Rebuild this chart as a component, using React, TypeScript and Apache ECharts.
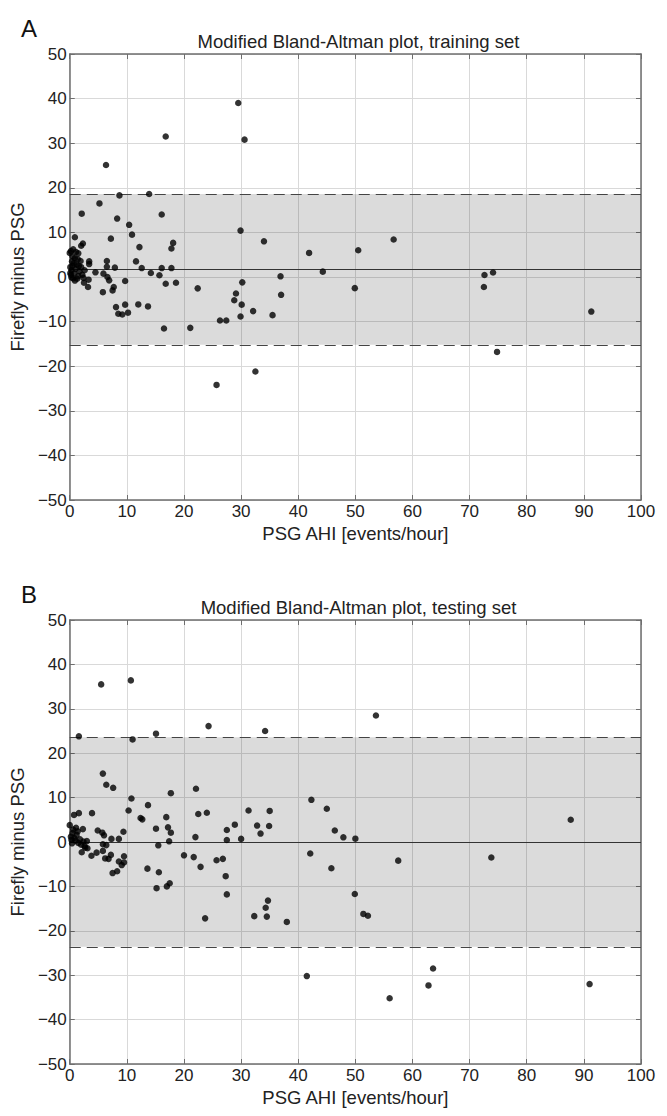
import React, { useEffect, useRef } from "react";
import * as echarts from "echarts";

const panelLetters = ["A", "B"];
const panelTitles = [
  "Modified Bland-Altman plot, training set",
  "Modified Bland-Altman plot, testing set",
];
const xAxisName = "PSG AHI [events/hour]";
const yAxisName = "Firefly minus PSG";
const xRange = [0, 100];
const yRange = [-50, 50];

// limits: [lower LoA, mean bias, upper LoA]
const trainingLimits = [-15.2, 1.65, 18.6];
const testingLimits = [-23.6, 0, 23.6];

const trainingPoints: [number, number][] = [
  [29.5, 39.0], [30.6, 30.8], [16.8, 31.5], [6.35, 25.1], [8.7, 18.3], [13.9, 18.6],
  [5.2, 16.5], [2.1, 14.2], [16.1, 14.0], [8.3, 13.1], [10.4, 11.7], [10.9, 9.5],
  [29.9, 10.4], [0.9, 8.9], [7.2, 8.6], [12.2, 6.7], [18.1, 7.65], [17.8, 6.4],
  [34.0, 8.0], [2.3, 7.5], [2.0, 7.0], [0.0, 5.4], [0.6, 6.2], [1.5, 5.3],
  [6.5, 3.6], [6.5, 2.3], [3.4, 3.5], [3.4, 2.9], [11.6, 3.5], [7.9, 2.1],
  [12.6, 2.0], [16.1, 2.0], [17.8, 2.0], [4.5, 1.05], [5.9, 0.75], [14.2, 0.9],
  [15.7, 0.4], [6.6, 0.0], [6.9, -0.75], [9.7, -0.9], [16.8, -1.5], [18.6, -1.3],
  [3.3, -0.6], [2.5, -1.3], [3.2, -2.25], [7.7, -2.25], [7.5, -3.0], [5.8, -3.4],
  [22.4, -2.55], [29.1, -3.7], [28.8, -5.2], [30.2, -1.2], [30.1, -6.2], [8.1, -6.75],
  [9.7, -6.2], [12.0, -6.15], [13.7, -6.6], [8.5, -8.25], [9.2, -8.4], [10.2, -8.0],
  [26.3, -9.75], [27.4, -9.75], [29.9, -8.85], [32.1, -7.65], [16.5, -11.55], [21.1, -11.4],
  [25.7, -24.2], [32.5, -21.2], [35.5, -8.55], [36.9, 0.15], [37.0, -4.0], [41.9, 5.4],
  [44.3, 1.2], [49.9, -2.5], [50.5, 6.0], [56.7, 8.4], [72.6, 0.45], [74.1, 1.0],
  [72.5, -2.25], [74.8, -16.8], [91.3, -7.75],
  [0.2, 0.5], [0.3, 1.5], [0.5, 2.5], [0.4, 3.5], [0.6, -0.3], [0.8, 0.8],
  [1.0, 1.8], [1.2, 2.8], [0.9, 4.2], [1.5, 0.2], [1.7, 1.3], [2.0, 2.2],
  [1.3, -0.4], [0.2, 5.8], [1.1, 5.6], [2.2, 0.5], [2.6, 1.5], [0.1, 2.2],
  [0.3, -0.1], [0.7, 3.1], [1.9, 3.6], [0.5, 4.6], [1.4, 4.0], [2.4, -0.2],
  [0.1, 0.9], [1.6, 2.5], [0.9, -0.8],
];

const testingPoints: [number, number][] = [
  [5.5, 35.5], [10.7, 36.4], [1.6, 23.8], [11.0, 23.1], [15.1, 24.4], [24.3, 26.1],
  [5.8, 15.4], [6.4, 12.9], [7.6, 12.2], [10.8, 9.8], [17.7, 11.0], [22.1, 12.0],
  [10.3, 7.1], [13.7, 8.3], [0.75, 6.1], [1.6, 6.5], [3.9, 6.5], [12.4, 5.4],
  [12.7, 5.1], [16.9, 5.6], [22.5, 6.3], [24.0, 6.6], [31.3, 7.1], [32.8, 3.7],
  [33.4, 1.9], [0.0, 3.8], [2.3, 2.9], [4.9, 2.6], [5.7, 2.1], [6.0, 1.5],
  [9.4, 2.3], [15.1, 3.0], [17.2, 3.3], [17.7, 2.1], [22.0, 1.1], [27.5, 2.7],
  [28.9, 3.9], [27.5, 0.45], [30.0, 0.7], [7.3, 0.7], [8.6, 0.7], [5.8, -0.5],
  [6.4, -0.7], [17.4, 0.15], [15.5, -0.75], [2.7, -1.3], [3.1, -1.4], [2.1, -2.3],
  [3.8, -3.1], [4.7, -2.4], [5.8, -2.0], [6.2, -3.7], [6.8, -3.8], [7.2, -2.9],
  [9.5, -3.2], [9.5, -4.6], [8.6, -4.4], [13.6, -6.0], [20.0, -3.0], [21.7, -3.4],
  [22.9, -5.6], [25.7, -4.1], [26.8, -3.8], [34.2, 25.0], [53.6, 28.5], [35.0, 7.0],
  [34.9, 3.6], [42.3, 9.5], [45.0, 7.5], [46.4, 2.6], [47.9, 1.05], [50.0, 0.75],
  [42.1, -2.6], [45.8, -5.9], [57.5, -4.2], [49.9, -11.7], [34.7, -13.2], [34.3, -14.8],
  [32.3, -16.7], [34.5, -16.8], [51.4, -16.2], [52.2, -16.6], [87.7, 5.0], [73.8, -3.5],
  [41.5, -30.2], [56.0, -35.2], [62.8, -32.3], [63.6, -28.5], [91.0, -32.0], [38.0, -18.0],
  [23.7, -17.2], [27.5, -11.8], [27.3, -7.7], [15.2, -10.4], [17.0, -10.0], [17.5, -9.3],
  [15.6, -6.8], [7.5, -7.0], [8.3, -6.6], [9.1, -5.2],
  [0.2, 1.2], [0.5, 2.0], [0.8, 0.9], [1.0, 0.3], [1.2, 1.6], [0.3, 0.5],
  [1.5, -0.2], [1.8, 0.6], [2.0, -0.6], [0.6, 2.8], [1.1, 3.2], [2.4, 0.1],
  [0.4, -0.3], [1.4, 2.4], [2.6, -0.9], [3.0, 0.2],
];

const panelPoints = [trainingPoints, testingPoints];
const panelLimits = [trainingLimits, testingLimits];

const FONT = "'Liberation Sans', Arial, Helvetica, sans-serif";
const TEXT = "#222";
const AXIS = "#6e6e6e";

export default function App() {
  const ref = useRef<HTMLDivElement>(null);

  useEffect(() => {
    document.body.style.margin = "0";
    if (!ref.current) return;
    const chart = echarts.init(ref.current, undefined, { renderer: "svg" });

    const left = 66;
    const right = 667 - 641;
    const grids = [
      { top: 54, height: 446 },
      { top: 620, height: 444 },
    ];

    const grid: any[] = [];
    const xAxis: any[] = [];
    const yAxis: any[] = [];
    const series: any[] = [];
    const title: any[] = [];

    grids.forEach((g, i) => {
      grid.push({ left, right, top: g.top, height: g.height, containLabel: false });
      title.push({
        text: panelLetters[i],
        left: 16,
        top: g.top - 43,
        textStyle: { fontFamily: FONT, fontSize: 24, fontWeight: "normal", color: "#111" },
      });
      title.push({
        text: panelTitles[i],
        left: left + (667 - left - right) / 2,
        textAlign: "center",
        top: g.top - 27,
        textStyle: { fontFamily: FONT, fontSize: 18.5, fontWeight: "normal", color: TEXT },
      });
      xAxis.push({
        gridIndex: i,
        type: "value",
        min: xRange[0],
        max: xRange[1],
        interval: 10,
        position: "bottom",
        name: xAxisName,
        nameLocation: "middle",
        nameGap: 24,
        nameTextStyle: { fontFamily: FONT, fontSize: 18.5, color: TEXT },
        axisLine: { show: true, onZero: false, lineStyle: { color: AXIS, width: 1.5 } },
        axisTick: { show: true, inside: true, length: 5, lineStyle: { color: AXIS } },
        axisLabel: { fontFamily: FONT, fontSize: 17, color: TEXT, margin: 3 },
        splitLine: { show: true, lineStyle: { color: "#d9d9d9", width: 1 } },
      });
      xAxis.push({
        gridIndex: i,
        type: "value",
        min: xRange[0],
        max: xRange[1],
        interval: 10,
        position: "top",
        axisLine: { show: true, onZero: false, lineStyle: { color: AXIS, width: 1.5 } },
        axisTick: { show: true, inside: true, length: 5, lineStyle: { color: AXIS } },
        axisLabel: { show: false },
        splitLine: { show: false },
      });
      yAxis.push({
        gridIndex: i,
        type: "value",
        min: yRange[0],
        max: yRange[1],
        interval: 10,
        position: "left",
        name: yAxisName,
        nameLocation: "middle",
        nameGap: 37,
        nameTextStyle: { fontFamily: FONT, fontSize: 18.5, color: TEXT },
        axisLine: { show: true, onZero: false, lineStyle: { color: AXIS, width: 1.5 } },
        axisTick: { show: true, inside: true, length: 5, lineStyle: { color: AXIS } },
        axisLabel: {
          fontFamily: FONT,
          fontSize: 17,
          color: TEXT,
          margin: 3,
          formatter: (v: number) => (v < 0 ? "\u2212" + Math.abs(v) : String(v)),
        },
        splitLine: { show: true, lineStyle: { color: "#d9d9d9", width: 1 } },
      });
      yAxis.push({
        gridIndex: i,
        type: "value",
        min: yRange[0],
        max: yRange[1],
        interval: 10,
        position: "right",
        axisLine: { show: true, onZero: false, lineStyle: { color: AXIS, width: 1.5 } },
        axisTick: { show: true, inside: true, length: 5, lineStyle: { color: AXIS } },
        axisLabel: { show: false },
        splitLine: { show: false },
      });

      const lim = panelLimits[i];
      series.push({
        type: "line",
        xAxisIndex: 2 * i,
        yAxisIndex: 2 * i,
        data: [],
        silent: true,
        z: 1,
        markArea: {
          silent: true,
          itemStyle: { color: "rgba(0,0,0,0.14)" },
          data: [[{ yAxis: lim[0] }, { yAxis: lim[2] }]],
        },
        markLine: {
          silent: true,
          symbol: "none",
          label: { show: false },
          data: [
            { yAxis: lim[2], lineStyle: { type: [11, 6], color: "#444", width: 1.2 } },
            { yAxis: lim[0], lineStyle: { type: [11, 6], color: "#444", width: 1.2 } },
            { yAxis: lim[1], lineStyle: { type: "solid", color: "#333", width: 1.2 } },
          ],
        },
      });
      series.push({
        type: "scatter",
        xAxisIndex: 2 * i,
        yAxisIndex: 2 * i,
        data: panelPoints[i],
        symbol: "circle",
        symbolSize: 6.5,
        itemStyle: { color: "#000" },
        z: 5,
      });
    });

    chart.setOption({
      animation: false,
      backgroundColor: "#fff",
      title,
      grid,
      xAxis,
      yAxis,
      series,
    });

    return () => chart.dispose();
  }, []);

  return <div ref={ref} style={{ width: 667, height: 1116 }} />;
}
